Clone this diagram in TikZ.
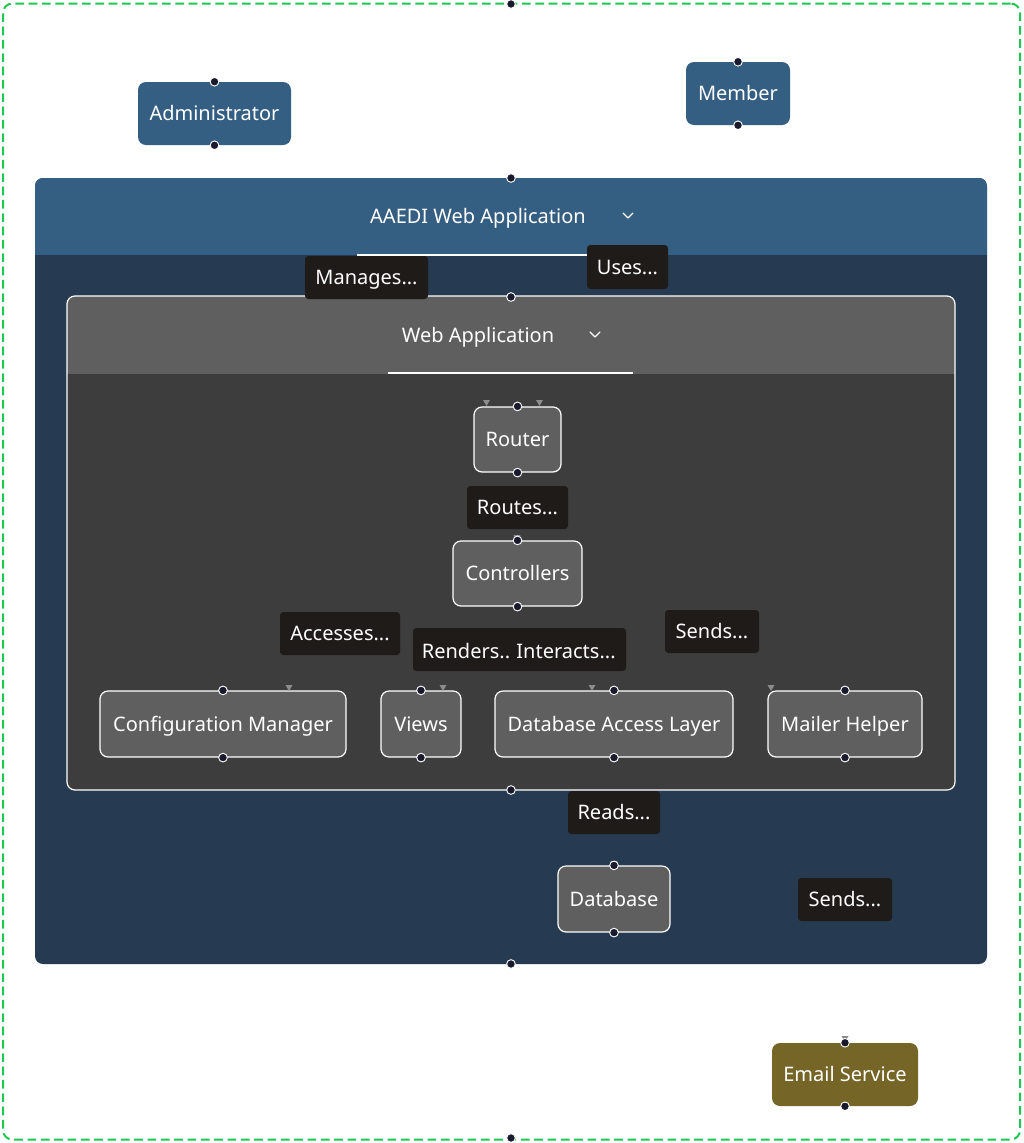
\documentclass[tikz,border=0pt]{standalone}
\usepackage{fontspec}
\setmainfont{Noto Sans}
\definecolor{hdrblue}{RGB}{52,94,130}
\definecolor{bodyblue}{RGB}{38,59,82}
\definecolor{webhdr}{RGB}{95,95,95}
\definecolor{webbody}{RGB}{61,61,61}
\definecolor{nodegray}{RGB}{95,95,95}
\definecolor{lblfill}{RGB}{30,27,24}
\definecolor{emailc}{RGB}{117,102,40}
\definecolor{greenb}{RGB}{30,200,80}
\definecolor{portc}{RGB}{26,26,46}
\definecolor{tipc}{RGB}{140,140,140}
\begin{document}
\begin{tikzpicture}[x=0.75pt,y=-0.75pt,
  every node/.style={font=\fontsize{15}{17}\selectfont, text=white, inner sep=0pt, text height=12.2pt, text depth=1.2pt},
  actor/.style={fill=hdrblue, rounded corners=6pt},
  comp/.style={fill=nodegray, draw=white, line width=0.9pt, rounded corners=6pt},
  lbl/.style={fill=lblfill, rounded corners=2.5pt},
  port/.style={circle, fill=portc, draw=white, line width=0.7pt, minimum size=6.5pt, text height=, text depth=},
  tip/.style={fill=tipc},
  chev/.style={draw=white, line width=1pt, line cap=round, line join=round}]
\useasboundingbox (0,0) rectangle (1024,1143);
\fill[white] (0,0) rectangle (1024,1143);
% outer dashed frame
\node[draw=greenb, dash pattern=on 6.5pt off 3.5pt, line width=1.5pt, rounded corners=7pt,
  minimum width=1017*0.75pt, minimum height=1136*0.75pt, text height=, text depth=] (frame) at (511.5,571.5) {};
\node[port] (pf1) at (511,4) {};
\node[port] (pf2) at (511,1138) {};
% actors
\node[actor, minimum width=153*0.75pt, minimum height=63*0.75pt] (admin) at (214.5,113.5) {Administrator};
\node[port] (pa1) at (admin.north) {};
\node[port] (pa2) at (admin.south) {};
\node[actor, minimum width=104*0.75pt, minimum height=63*0.75pt] (member) at (738,93.5) {Member};
\node[port] (pm1) at (member.north) {};
\node[port] (pm2) at (member.south) {};
% AAEDI group
\node[fill=bodyblue, rounded corners=6pt, minimum width=952*0.75pt, minimum height=786*0.75pt, text height=, text depth=] (aaedi) at (511,571) {};
\begin{scope}
\clip[rounded corners=6pt] (35,178) rectangle (987,964);
\fill[hdrblue] (35,178) rectangle (987,255);
\end{scope}
\node (aaeditit) at (478,216) {AAEDI Web Application};
\draw[chev] (623,213) -- (628,218) -- (633,213);
\draw[white, line width=1pt] (357,255) -- (600,255);
\node[port] (pg1) at (511,178) {};
\node[port] (pg2) at (511,964) {};
% Web application group
\begin{scope}
\clip[rounded corners=6pt] (67,296) rectangle (955,790);
\fill[webbody] (67,296) rectangle (955,790);
\fill[webhdr] (67,296) rectangle (955,374);
\end{scope}
\node[draw=white, line width=0.9pt, rounded corners=6pt, minimum width=888*0.75pt, minimum height=494*0.75pt, text height=, text depth=] (webapp) at (511,543) {};
\node (webtit) at (478,335) {Web Application};
\draw[chev] (590,332) -- (595,337) -- (600,332);
\draw[white, line width=1pt] (388,373) -- (633,373);
\node[port] (pw1) at (511,297) {};
\node[port] (pw2) at (511,790) {};
% edge labels (upper)
\node[lbl, minimum width=123*0.75pt, minimum height=43*0.75pt] (lmanages) at (366.5,277.5) {Manages...};
\node[lbl, minimum width=81*0.75pt, minimum height=44*0.75pt] (luses) at (627.5,267) {Uses...};
% components
\node[comp, minimum width=87*0.75pt, minimum height=65*0.75pt] (router) at (517.5,439.5) {Router};
\fill[tip] (483,400) -- (490,400) -- (486.5,406) -- cycle;
\fill[tip] (536,400) -- (543,400) -- (539.5,406) -- cycle;
\node[port] (pr1) at (router.north) {};
\node[port] (pr2) at (router.south) {};
\node[lbl, minimum width=101*0.75pt, minimum height=43*0.75pt] (lroutes) at (517.5,507.5) {Routes...};
\node[comp, minimum width=129*0.75pt, minimum height=65*0.75pt] (ctrl) at (517.5,573.5) {Controllers};
\fill[tip] (513.5,535) -- (520.5,535) -- (517,541) -- cycle;
\node[port] (pc1) at (ctrl.north) {};
\node[port] (pc2) at (ctrl.south) {};
\node[lbl, minimum width=120*0.75pt, minimum height=43*0.75pt] (laccess) at (340,633.5) {Accesses...};
\node[lbl, minimum width=213*0.75pt, minimum height=43*0.75pt] (lrenders) at (519.5,649.5) {};
\node (trenders) at (466,651) {Renders..};
\node (tinteracts) at (566,651) {Interacts...};
\node[lbl, minimum width=94*0.75pt, minimum height=43*0.75pt] (lsends1) at (712,631.5) {Sends...};
\node[comp, minimum width=246*0.75pt, minimum height=66*0.75pt] (config) at (223,724) {Configuration Manager};
\fill[tip] (285.5,685) -- (292.5,685) -- (289,691) -- cycle;
\node[port] (pcm1) at (config.north) {};
\node[port] (pcm2) at (config.south) {};
\node[comp, minimum width=80*0.75pt, minimum height=66*0.75pt] (views) at (421,724) {Views};
\fill[tip] (439.5,685) -- (446.5,685) -- (443,691) -- cycle;
\node[port] (pv1) at (views.north) {};
\node[port] (pv2) at (views.south) {};
\node[comp, minimum width=238*0.75pt, minimum height=66*0.75pt] (dal) at (614,724) {Database Access Layer};
\fill[tip] (588.5,685) -- (595.5,685) -- (592,691) -- cycle;
\node[port] (pd1) at (dal.north) {};
\node[port] (pd2) at (dal.south) {};
\node[comp, minimum width=154*0.75pt, minimum height=66*0.75pt] (mailer) at (845,724) {Mailer Helper};
\fill[tip] (767.5,685) -- (774.5,685) -- (771,691) -- cycle;
\node[port] (pmh1) at (mailer.north) {};
\node[port] (pmh2) at (mailer.south) {};
% lower part
\node[lbl, minimum width=92*0.75pt, minimum height=43*0.75pt] (lreads) at (614,812.5) {Reads...};
\node[comp, minimum width=112*0.75pt, minimum height=66*0.75pt] (db) at (614,899) {Database};
\fill[tip] (610.5,861) -- (617.5,861) -- (614,866) -- cycle;
\node[port] (pdb1) at (db.north) {};
\node[port] (pdb2) at (db.south) {};
\node[lbl, minimum width=94*0.75pt, minimum height=43*0.75pt] (lsends2) at (845,899.5) {Sends...};
% email service
\node[fill=emailc, rounded corners=6pt, minimum width=146*0.75pt, minimum height=63*0.75pt] (email) at (845,1074.5) {Email Service};
\fill[tip] (841.5,1036) -- (848.5,1036) -- (845,1042) -- cycle;
\node[port] (pe1) at (email.north) {};
\node[port] (pe2) at (email.south) {};
\end{tikzpicture}
\end{document}
